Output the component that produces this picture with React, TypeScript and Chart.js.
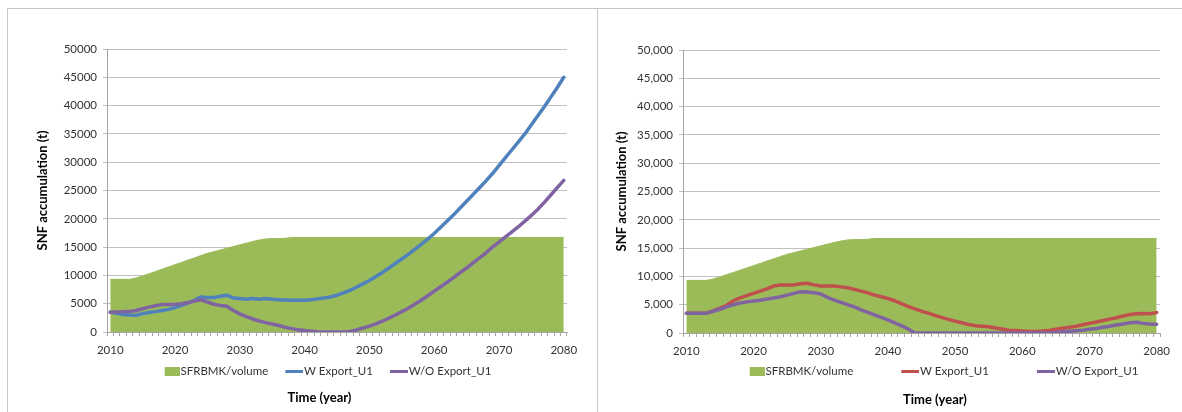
import React, { useEffect, useRef } from 'react';
import { Chart, registerables } from 'chart.js';

Chart.register(...registerables);

const YEARS = [
  2010, 2011, 2012, 2013, 2014, 2015, 2016, 2017, 2018, 2019,
  2020, 2021, 2022, 2023, 2024, 2025, 2026, 2027, 2028, 2029,
  2030, 2031, 2032, 2033, 2034, 2035, 2036, 2037, 2038, 2039,
  2040, 2041, 2042, 2043, 2044, 2045, 2046, 2047, 2048, 2049,
  2050, 2051, 2052, 2053, 2054, 2055, 2056, 2057, 2058, 2059,
  2060, 2061, 2062, 2063, 2064, 2065, 2066, 2067, 2068, 2069,
  2070, 2071, 2072, 2073, 2074, 2075, 2076, 2077, 2078, 2079,
  2080,
];

const STORAGE_VOLUME = [
  9300, 9300, 9300, 9300, 9550, 9900, 10300, 10700, 11100, 11500,
  11900, 12300, 12700, 13100, 13500, 13900, 14200, 14500, 14800, 15100,
  15400, 15700, 16000, 16250, 16450, 16500, 16500, 16550, 16700, 16700,
  16700, 16700, 16700, 16700, 16700, 16700, 16700, 16700, 16700, 16700,
  16700, 16700, 16700, 16700, 16700, 16700, 16700, 16700, 16700, 16700,
  16700, 16700, 16700, 16700, 16700, 16700, 16700, 16700, 16700, 16700,
  16700, 16700, 16700, 16700, 16700, 16700, 16700, 16700, 16700, 16700,
  16700,
];

const LEFT_W_EXPORT = [
  3500, 3300, 3100, 3000, 2950, 3250, 3450, 3600, 3800, 4000,
  4300, 4700, 5100, 5600, 6200, 6100, 6100, 6300, 6500, 6000,
  5900, 5800, 5900, 5800, 5900, 5800, 5700, 5650, 5600, 5600,
  5600, 5700, 5850, 6000, 6200, 6500, 6900, 7350, 7900, 8500,
  9100, 9800, 10500, 11300, 12100, 12900, 13700, 14600, 15500, 16400,
  17400, 18500, 19600, 20700, 21900, 23100, 24300, 25500, 26700, 28000,
  29400, 30800, 32200, 33600, 35000, 36600, 38200, 39800, 41500, 43200,
  45000,
];

const LEFT_WO_EXPORT = [
  3500, 3550, 3600, 3600, 3800, 4100, 4400, 4650, 4850, 4850,
  4900, 5000, 5200, 5450, 5700, 5300, 4900, 4700, 4550, 3800,
  3200, 2700, 2300, 1950, 1650, 1400, 1150, 850, 600, 400,
  250, 150, 50, 0, 0, 0, 0, 100, 350, 700,
  1050, 1450, 1900, 2450, 3000, 3600, 4200, 4900, 5600, 6400,
  7200, 8000, 8800, 9600, 10500, 11300, 12200, 13100, 14000, 15000,
  15900, 16800, 17700, 18600, 19600, 20600, 21700, 22900, 24200, 25500,
  26800,
];

const RIGHT_W_EXPORT = [
  3500, 3500, 3500, 3500, 3900, 4400, 4900, 5700, 6200, 6600,
  7000, 7400, 7800, 8300, 8500, 8500, 8500, 8700, 8800, 8500,
  8300, 8300, 8300, 8150, 8000, 7700, 7400, 7100, 6700, 6400,
  6100, 5700, 5200, 4700, 4250, 3850, 3500, 3100, 2750, 2400,
  2100, 1800, 1500, 1300, 1200, 1100, 900, 700, 500, 450,
  350, 300, 280, 350, 450, 650, 850, 1000, 1200, 1450,
  1700, 1950, 2200, 2450, 2700, 3000, 3250, 3400, 3450, 3400,
  3600,
];

const RIGHT_WO_EXPORT = [
  3500, 3500, 3500, 3500, 3850, 4200, 4600, 5000, 5300, 5500,
  5650, 5800, 6000, 6200, 6400, 6700, 7000, 7300, 7250, 7100,
  6900, 6300, 5800, 5400, 5000, 4600, 4100, 3650, 3200, 2750,
  2300, 1800, 1300, 700, 0, 0, 0, 0, 0, 0,
  0, 0, 0, 0, 0, 0, 0, 0, 0, 0,
  0, 0, 0, 0, 0, 100, 200, 300, 400, 500,
  650, 800, 1000, 1200, 1400, 1600, 1800, 1900, 1700, 1600,
  1550,
];

const SERIES_NAMES = ['SFRBMK/volume', 'W Export_U1', 'W/O Export_U1'];
const Y_TITLE = 'SNF accumulation (t)';
const X_TITLE = 'Time (year)';

const GREEN = '#9BBB59';
const BLUE = '#4F81BD';
const RED = '#C0504D';
const PURPLE = '#8064A2';
const GRID = '#c0c0c0';
const AXIS = '#a4a4a4';
const TICK_TEXT = '#333333';
const FONT_FAMILY = "Lato, 'Open Sans', sans-serif";
const FS = 11.5;
const TITLE_FS = 13;

type Spec = {
  w: number[];
  wo: number[];
  wColor: string;
  commas: boolean;
  width: number;
  height: number;
  padLeft: number;
  padTop: number;
  yWidth: number;
  rightWidth: number;
  xHeight: number;
  legendPad: number;
  legendFull: boolean;
  boxW: number;
  titlePadTop: number;
  titlePadBottom: number;
};

function makeSwatch(kind: 'box' | 'line', color: string, w: number): HTMLCanvasElement {
  const c = document.createElement('canvas');
  const sw = kind === 'box' ? 15 : 18;
  const h = kind === 'box' ? 9 : 3;
  c.width = w;
  c.height = h;
  const ctx = c.getContext('2d');
  if (ctx) {
    ctx.fillStyle = color;
    ctx.fillRect(w - sw, 0, sw, h);
  }
  return c;
}

function buildChart(canvas: HTMLCanvasElement, s: Spec): Chart {
  const imgW = Math.round(s.boxW + FS - 2);
  const swatches = [
    makeSwatch('box', GREEN, imgW),
    makeSwatch('line', s.wColor, imgW),
    makeSwatch('line', PURPLE, imgW),
  ];
  const tickFont = { family: FONT_FAMILY, size: FS };
  const titleFont = { family: FONT_FAMILY, size: TITLE_FS, weight: 'bold' as const };

  return new Chart(canvas, {
    type: 'line',
    data: {
      labels: YEARS.map(String),
      datasets: [
        {
          label: SERIES_NAMES[0],
          data: STORAGE_VOLUME,
          fill: 'origin',
          backgroundColor: GREEN,
          borderColor: GREEN,
          borderWidth: 1,
          pointRadius: 0,
          tension: 0,
          order: 3,
        },
        {
          label: SERIES_NAMES[1],
          data: s.w,
          fill: false,
          borderColor: s.wColor,
          backgroundColor: s.wColor,
          borderWidth: 3.5,
          pointRadius: 0,
          tension: 0,
          borderCapStyle: 'round',
          borderJoinStyle: 'round',
          order: 2,
        },
        {
          label: SERIES_NAMES[2],
          data: s.wo,
          fill: false,
          borderColor: PURPLE,
          backgroundColor: PURPLE,
          borderWidth: 3.5,
          pointRadius: 0,
          tension: 0,
          borderCapStyle: 'round',
          borderJoinStyle: 'round',
          order: 1,
        },
      ],
    },
    options: {
      responsive: false,
      animation: false,
      devicePixelRatio: 1,
      events: [],
      layout: {
        padding: { left: s.padLeft, top: s.padTop, right: 0, bottom: 0 },
      },
      scales: {
        x: {
          type: 'category',
          offset: true,
          grid: {
            display: true,
            drawOnChartArea: false,
            drawTicks: true,
            tickLength: 4,
            offset: true,
            color: AXIS,
          },
          border: { display: true, color: AXIS },
          ticks: {
            autoSkip: false,
            maxRotation: 0,
            minRotation: 0,
            padding: 7,
            color: TICK_TEXT,
            font: tickFont,
            callback: (_v: any, i: number) => (YEARS[i] % 10 === 0 ? String(YEARS[i]) : ''),
          },
          afterFit: (scale: any) => {
            scale.height = s.xHeight;
          },
        },
        y: {
          type: 'linear',
          position: 'left',
          min: 0,
          max: 50000,
          grid: { color: GRID, drawTicks: true, tickLength: 4 },
          border: { display: true, color: AXIS },
          ticks: {
            stepSize: 5000,
            padding: 6,
            color: TICK_TEXT,
            font: tickFont,
            callback: (v: any) =>
              s.commas ? Number(v).toLocaleString('en-US') : String(v),
          },
          title: {
            display: true,
            text: Y_TITLE,
            color: '#000',
            font: titleFont,
            padding: { top: 0, bottom: 0 },
          },
          afterFit: (scale: any) => {
            scale.width = s.yWidth;
          },
        },
        y2: {
          type: 'linear',
          position: 'right',
          display: true,
          grid: { display: false },
          border: { display: false },
          ticks: { display: false },
          afterFit: (scale: any) => {
            scale.width = s.rightWidth;
          },
        },
      },
      plugins: {
        tooltip: { enabled: false },
        legend: {
          display: true,
          position: 'bottom',
          fullSize: s.legendFull,
          align: 'center',
          labels: {
            usePointStyle: true,
            pointStyleWidth: s.boxW,
            boxHeight: 10,
            padding: s.legendPad,
            color: TICK_TEXT,
            font: tickFont,
            generateLabels: (chart: any) => {
              const items = Chart.defaults.plugins.legend.labels.generateLabels(chart);
              return items
                .slice()
                .sort((a: any, b: any) => a.datasetIndex - b.datasetIndex)
                .map((it: any) => ({ ...it, pointStyle: swatches[it.datasetIndex] }));
            },
          },
        },
        title: {
          display: true,
          text: X_TITLE,
          position: 'bottom',
          fullSize: true,
          color: '#000',
          font: titleFont,
          padding: { top: s.titlePadTop, bottom: s.titlePadBottom },
        },
      },
    } as any,
  });
}

const LEFT_SPEC: Spec = {
  w: LEFT_W_EXPORT,
  wo: LEFT_WO_EXPORT,
  wColor: BLUE,
  commas: false,
  width: 596,
  height: 403,
  padLeft: 27,
  padTop: 40,
  yWidth: 72,
  rightWidth: 37,
  xHeight: 30.75,
  legendPad: 3,
  legendFull: true,
  boxW: 27,
  titlePadTop: 2.95,
  titlePadBottom: 6.2,
};

const RIGHT_SPEC: Spec = {
  w: RIGHT_W_EXPORT,
  wo: RIGHT_WO_EXPORT,
  wColor: RED,
  commas: true,
  width: 658,
  height: 403,
  padLeft: 16,
  padTop: 41,
  yWidth: 69,
  rightWidth: 96,
  xHeight: 26.75,
  legendPad: 6,
  legendFull: false,
  boxW: 55,
  titlePadTop: 4.95,
  titlePadBottom: 4.2,
};

function ChartPanel({ spec, left, top }: { spec: Spec; left: number; top: number }) {
  const ref = useRef<HTMLCanvasElement | null>(null);
  useEffect(() => {
    if (!ref.current) return;
    const chart = buildChart(ref.current, spec);
    return () => chart.destroy();
  }, [spec]);
  return (
    <canvas
      ref={ref}
      width={spec.width}
      height={spec.height}
      style={{ position: 'absolute', left, top, width: spec.width, height: spec.height }}
    />
  );
}

export default function App() {
  return (
    <div
      style={{
        position: 'fixed',
        left: 0,
        top: 0,
        width: 1182,
        height: 412,
        background: '#ffffff',
        overflow: 'hidden',
      }}
    >
      <ChartPanel spec={LEFT_SPEC} left={8} top={9} />
      <ChartPanel spec={RIGHT_SPEC} left={598} top={9} />
      <div
        style={{
          position: 'absolute',
          left: 7,
          top: 8,
          width: 1175,
          height: 404,
          borderTop: '1px solid #c6c6c6',
          borderLeft: '1px solid #c6c6c6',
          boxSizing: 'border-box',
          pointerEvents: 'none',
        }}
      />
      <div
        style={{ position: 'absolute', left: 597, top: 8, width: 1, height: 404, background: '#c6c6c6' }}
      />
    </div>
  );
}
